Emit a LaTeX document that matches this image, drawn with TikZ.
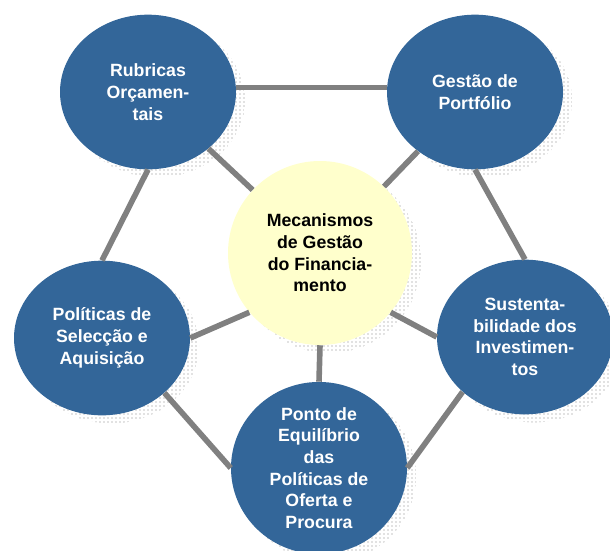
\documentclass[tikz,border=0pt]{standalone}
\usepackage{fontspec}
\setmainfont{Liberation Sans}
\usepackage{xcolor}
\usepackage{tikz}
\usetikzlibrary{shapes.geometric, shadows, patterns.meta}
\definecolor{blob}{RGB}{51,102,153}
\definecolor{core}{RGB}{255,255,204}
\definecolor{link}{RGB}{128,128,128}

\begin{document}
\begin{tikzpicture}[x=0.75pt, y=-0.75pt,
		every node/.style={font=\fontsize{13.3}{16.3}\selectfont\bfseries, align=center},
		dotshadow/.style={general shadow={shadow xshift=7pt, shadow yshift=-6pt,
			pattern={Dots[distance=3pt, radius=0.5pt]}, pattern color=gray}},
		topic/.style={ellipse, fill=blob, text=white, inner sep=0pt,
			minimum width=132pt, minimum height=116pt, dotshadow},
		hub/.style={circle, fill=core, text=black, inner sep=0pt,
			minimum size=138pt, dotshadow},
		tie/.style={draw=link, line width=4.2pt}]
	\useasboundingbox (0,0) rectangle (610,550);

	% centre
	\node[hub] (ctr) at (320,253) {Mecanismos\\de Gestão\\do Financia-\\mento};

	% outer topics
	\node[topic] (rub) at (148,92) {Rubricas\\Orçamen-\\tais};
	\node[topic] (ges) at (475,92) {Gestão de\\Portfólio};
	\node[topic] (pol) at (102,338) {Políticas de\\Selecção e\\Aquisição};
	\node[topic] (sus) at (525,337) {Sustenta-\\bilidade dos\\Investimen-\\tos};
	\node[topic, minimum height=117pt] (pon) at (319,468) {Ponto de\\Equilíbrio\\das\\Políticas de\\Oferta e\\Procura};

	% ring
	\draw[tie] (rub.3) -- (ges.177);
	\draw[tie] (ges.south) -- (sus.north);
	\draw[tie] (sus.south west) -- (pon.east);
	\draw[tie] (pon.west) -- (pol.south east);
	\draw[tie] (pol.north) -- (rub.south);

	% spokes
	\draw[tie] (rub) -- (ctr);
	\draw[tie] (ges) -- (ctr);
	\draw[tie] (pol.east) -- (ctr.220);
	\draw[tie] (sus.west) -- (ctr.-40);
	\draw[tie] (pon.north) -- (ctr.south);
\end{tikzpicture}
\end{document}
